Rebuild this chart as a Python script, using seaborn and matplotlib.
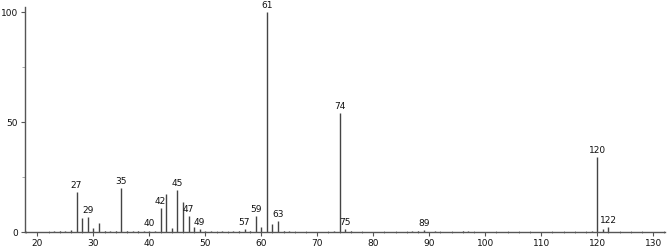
import matplotlib
matplotlib.use("Agg")
import matplotlib.pyplot as plt
import seaborn as sns
from matplotlib.ticker import MultipleLocator

# m/z values and relative intensities
mz = [23, 24, 25, 26, 27, 28, 29, 30, 31, 32, 33, 34, 35, 36, 37, 38, 39,
      40, 41, 42, 43, 44, 45, 46, 47, 48, 49, 50, 51, 53, 55, 56, 57, 58,
      59, 60, 61, 62, 63, 64, 65, 73, 74, 75, 76, 87, 88, 89, 91, 96, 97,
      119, 120, 121, 122]
intensity = [0.4, 0.5, 0.6, 1.0, 18.4, 6.3, 6.9, 2.1, 4.4, 0.4, 0.4, 0.5, 20.0, 0.5, 0.4, 0.5, 0.6,
             0.8, 0.5, 11.0, 17.4, 2.1, 19.2, 13.9, 7.5, 2.5, 1.4, 0.6, 0.5, 0.4, 0.5, 0.7, 1.4, 0.8,
             7.4, 2.5, 100.0, 3.6, 5.1, 0.6, 0.4, 0.5, 54.0, 1.5, 0.5, 0.4, 0.6, 1.0, 0.5, 0.4, 0.5,
             0.5, 34.0, 1.4, 2.5]
label_mz = [27, 29, 35, 40, 42, 45, 47, 49, 57, 59, 61, 63, 74, 75, 89, 120, 122]
x_ticks = [20, 30, 40, 50, 60, 70, 80, 90, 100, 110, 120, 130]
y_ticks = [0, 50, 100]

sns.set_theme(style="ticks")
plt.rcParams['font.family'] = ['DejaVu Sans']

fig = plt.figure(figsize=(6.67, 2.49), dpi=100)
ax = fig.add_axes([0.0375, 0.067, 0.9595, 0.905])

line_col = "#444444"
ax.vlines(mz, 0, intensity, colors=line_col, linewidth=1.0)

lookup = dict(zip(mz, intensity))
for m in label_mz:
    ax.annotate(str(m), (m, lookup[m]), xytext=(0, 1.5), textcoords="offset points",
                ha="center", va="bottom", fontsize=6.5, color="#111111", clip_on=False,
                annotation_clip=False)

ax.set_xlim(17.8, 132.1)
ax.set_ylim(0, 102.4)
ax.set_xticks(x_ticks)
ax.set_yticks(y_ticks)
ax.xaxis.set_minor_locator(MultipleLocator(2))
ax.yaxis.set_minor_locator(MultipleLocator(25))

sns.despine(ax=ax)
for s in ["left", "bottom"]:
    ax.spines[s].set_color("#555555")
    ax.spines[s].set_linewidth(1.0)

ax.tick_params(axis="both", which="major", length=3, width=0.8, color="#555555",
               labelsize=6.5, labelcolor="#111111", pad=2)
ax.tick_params(axis="x", which="minor", length=2, width=0.6, color="#777777", direction="inout")
ax.tick_params(axis="y", which="minor", length=2, width=0.6, color="#999999")
ax.grid(False)

fig.savefig("out.png", dpi=100)
